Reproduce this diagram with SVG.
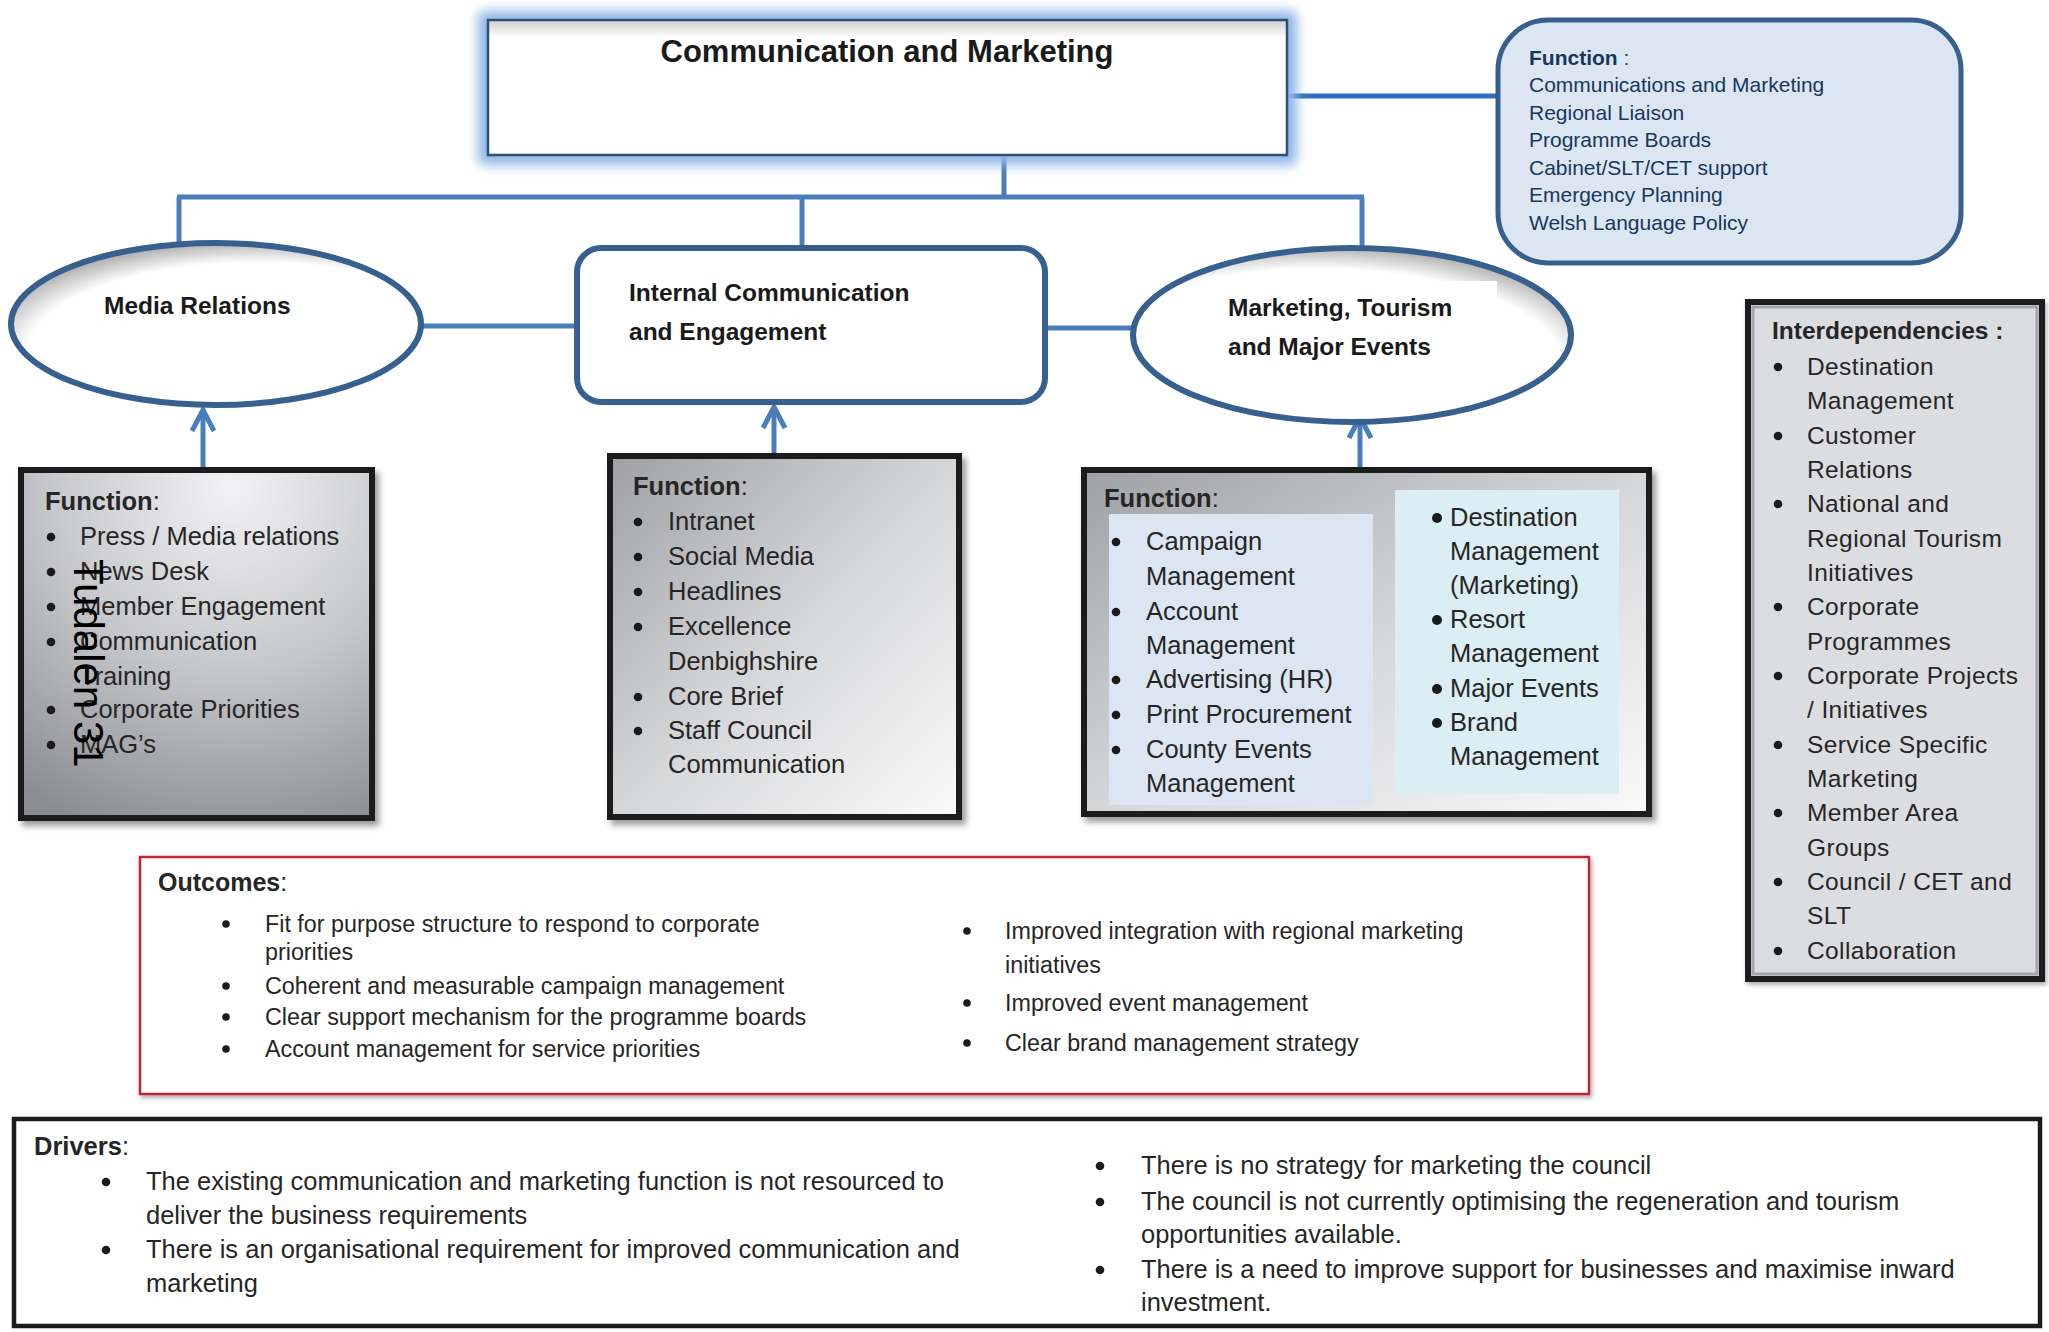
<svg xmlns="http://www.w3.org/2000/svg" width="2049" height="1332" viewBox="0 0 2049 1332">
<defs>
<style>
text{font-family:"Liberation Sans",Arial,sans-serif;fill:#262626}
.t{font-size:25.5px}
.h{font-weight:bold}
.nt{font-size:24.5px;font-weight:bold;fill:#1a1a1a}
.fn{font-size:21px;fill:#17375e}
.oc{font-size:23.3px}
.id{font-size:24.5px;letter-spacing:0.4px}
.conn{stroke:#4a7ebb;stroke-width:5;fill:none}
.node{stroke:#37608f;stroke-width:6}
.fbox{stroke:#1c1c1c;stroke-width:6}
.b{fill:#1a1a1a}
</style>
<filter id="glow" x="-10%" y="-30%" width="120%" height="160%"><feGaussianBlur stdDeviation="6"/></filter>
<filter id="sh" x="-10%" y="-10%" width="125%" height="125%"><feDropShadow dx="4" dy="5" stdDeviation="3" flood-color="#000" flood-opacity="0.4"/></filter>
<filter id="sh2" x="-5%" y="-10%" width="110%" height="125%"><feDropShadow dx="2" dy="3" stdDeviation="2" flood-color="#000" flood-opacity="0.3"/></filter>
<linearGradient id="bevel" x1="0" y1="0" x2="0" y2="1">
<stop offset="0" stop-color="#cfcfcf"/><stop offset="0.13" stop-color="#ffffff"/><stop offset="1" stop-color="#ffffff"/>
</linearGradient>
<radialGradient id="gMedia" cx="0.6" cy="0.05" r="1.05">
<stop offset="0" stop-color="#f2f2f4"/><stop offset="0.5" stop-color="#c6c7ca"/><stop offset="1" stop-color="#8c8d91"/>
</radialGradient>
<linearGradient id="gDiag" x1="0" y1="0" x2="1" y2="1">
<stop offset="0" stop-color="#9fa0a4"/><stop offset="0.5" stop-color="#d5d6d8"/><stop offset="1" stop-color="#fafafa"/>
</linearGradient>
<radialGradient id="gEllA" cx="0.6" cy="0.68" r="0.7">
<stop offset="0.8" stop-color="#ffffff"/><stop offset="1" stop-color="#ababab"/>
</radialGradient>
<radialGradient id="gEllB" cx="0.42" cy="0.68" r="0.7">
<stop offset="0.8" stop-color="#ffffff"/><stop offset="1" stop-color="#ababab"/>
</radialGradient>
<marker id="arr" viewBox="-26 -16 32 32" markerWidth="32" markerHeight="32" refX="0" refY="0" orient="auto" markerUnits="userSpaceOnUse">
<path d="M-21,-11 L0,0 L-21,11" fill="none" stroke="#4a7ebb" stroke-width="5"/>
</marker>
</defs>
<rect width="2049" height="1332" fill="#ffffff"/>

<g id="connectors">
<line x1="1287" y1="96" x2="1498" y2="96" stroke="#2f6eba" stroke-width="5"/>
<line class="conn" x1="1004" y1="155" x2="1004" y2="197"/>
<line class="conn" x1="177" y1="197" x2="1364" y2="197"/>
<line class="conn" x1="179" y1="197" x2="179" y2="244"/>
<line class="conn" x1="802" y1="197" x2="802" y2="248"/>
<line class="conn" x1="1362" y1="197" x2="1362" y2="248"/>
<line class="conn" x1="421" y1="326" x2="577" y2="326"/>
<line class="conn" x1="1045" y1="328" x2="1134" y2="328"/>
<line class="conn" x1="203" y1="467" x2="203" y2="410" marker-end="url(#arr)"/>
<line class="conn" x1="774" y1="453" x2="774" y2="407" marker-end="url(#arr)"/>
<line class="conn" x1="1360" y1="468" x2="1360" y2="417" marker-end="url(#arr)"/>
</g>

<g id="top">
<rect x="478" y="11" width="819" height="154" rx="6" fill="#8fb6e6" filter="url(#glow)"/>
<rect x="488" y="20" width="799" height="135" fill="url(#bevel)" stroke="#2f4f75" stroke-width="2.5"/>
<text x="887" y="62" text-anchor="middle" style="font-size:31px;font-weight:bold;fill:#1a1a1a">Communication and Marketing</text>
</g>

<g id="function-main">
<rect x="1498" y="20" width="463" height="243" rx="50" fill="#dce6f2" stroke="#37608f" stroke-width="5"/>
<text class="fn" x="1529" y="65"><tspan font-weight="bold">Function</tspan> :</text>
<text class="fn" x="1529" y="92">Communications and Marketing</text>
<text class="fn" x="1529" y="120">Regional Liaison</text>
<text class="fn" x="1529" y="147">Programme Boards</text>
<text class="fn" x="1529" y="175">Cabinet/SLT/CET support</text>
<text class="fn" x="1529" y="202">Emergency Planning</text>
<text class="fn" x="1529" y="230">Welsh Language Policy</text>
</g>

<g id="media-relations">
<ellipse cx="216" cy="324" rx="205" ry="81" fill="url(#gEllA)" class="node"/>
<text class="nt" x="104" y="314">Media Relations</text>
</g>

<g id="internal-communication">
<rect x="577" y="248" width="468" height="154" rx="24" fill="#ffffff" class="node"/>
<text class="nt" x="629" y="301">Internal Communication</text>
<text class="nt" x="629" y="340">and Engagement</text>
</g>

<g id="marketing-tourism">
<ellipse cx="1352" cy="335" rx="219" ry="87" fill="url(#gEllB)"/>
<rect x="1207" y="281" width="290" height="92" fill="#ffffff"/>
<ellipse cx="1352" cy="335" rx="219" ry="87" fill="none" class="node"/>
<text class="nt" x="1228" y="316">Marketing, Tourism</text>
<text class="nt" x="1228" y="355">and Major Events</text>
</g>

<g id="media-function">
<rect x="21" y="470" width="351" height="348" fill="url(#gMedia)" class="fbox" filter="url(#sh)"/>
<text class="t" x="45" y="510"><tspan class="h">Function</tspan>:</text>
<circle class="b" cx="51" cy="537" r="4.3"/><text class="t" x="80" y="545">Press / Media relations</text>
<circle class="b" cx="51" cy="572" r="4.3"/><text class="t" x="80" y="580">News Desk</text>
<circle class="b" cx="51" cy="607" r="4.3"/><text class="t" x="80" y="615">Member Engagement</text>
<circle class="b" cx="51" cy="642" r="4.3"/><text class="t" x="80" y="650">Communication</text>
<text class="t" x="80" y="685">Training</text>
<circle class="b" cx="51" cy="710" r="4.3"/><text class="t" x="80" y="718">Corporate Priorities</text>
<circle class="b" cx="51" cy="745" r="4.3"/><text class="t" x="80" y="753">MAG’s</text>
<text transform="translate(74,559) rotate(90)" style="font-size:42px;fill:#000">Tudalen 31</text>
</g>

<g id="internal-function">
<rect x="610" y="456" width="349" height="361" fill="url(#gDiag)" class="fbox" filter="url(#sh)"/>
<text class="t" x="633" y="495"><tspan class="h">Function</tspan>:</text>
<circle class="b" cx="638" cy="522" r="4.3"/><text class="t" x="668" y="530">Intranet</text>
<circle class="b" cx="638" cy="557" r="4.3"/><text class="t" x="668" y="565">Social Media</text>
<circle class="b" cx="638" cy="592" r="4.3"/><text class="t" x="668" y="600">Headlines</text>
<circle class="b" cx="638" cy="627" r="4.3"/><text class="t" x="668" y="635">Excellence</text>
<text class="t" x="668" y="670">Denbighshire</text>
<circle class="b" cx="638" cy="697" r="4.3"/><text class="t" x="668" y="705">Core Brief</text>
<circle class="b" cx="638" cy="731" r="4.3"/><text class="t" x="668" y="739">Staff Council</text>
<text class="t" x="668" y="773">Communication</text>
</g>

<g id="marketing-function">
<rect x="1084" y="470" width="565" height="344" fill="url(#gDiag)" class="fbox" filter="url(#sh)"/>
<rect x="1109" y="514" width="264" height="291" fill="#dce6f2"/>
<rect x="1395" y="490" width="224" height="304" fill="#daeef3"/>
<text class="t" x="1104" y="507"><tspan class="h">Function</tspan>:</text>
<circle class="b" cx="1116" cy="542" r="4.3"/><text class="t" x="1146" y="550">Campaign</text>
<text class="t" x="1146" y="585">Management</text>
<circle class="b" cx="1116" cy="612" r="4.3"/><text class="t" x="1146" y="620">Account</text>
<text class="t" x="1146" y="654">Management</text>
<circle class="b" cx="1116" cy="680" r="4.3"/><text class="t" x="1146" y="688">Advertising (HR)</text>
<circle class="b" cx="1116" cy="715" r="4.3"/><text class="t" x="1146" y="723">Print Procurement</text>
<circle class="b" cx="1116" cy="750" r="4.3"/><text class="t" x="1146" y="758">County Events</text>
<text class="t" x="1146" y="792">Management</text>
<circle class="b" cx="1437" cy="518" r="5"/><text class="t" x="1450" y="526">Destination</text>
<text class="t" x="1450" y="560">Management</text>
<text class="t" x="1450" y="594">(Marketing)</text>
<circle class="b" cx="1437" cy="620" r="5"/><text class="t" x="1450" y="628">Resort</text>
<text class="t" x="1450" y="662">Management</text>
<circle class="b" cx="1437" cy="689" r="5"/><text class="t" x="1450" y="697">Major Events</text>
<circle class="b" cx="1437" cy="723" r="5"/><text class="t" x="1450" y="731">Brand</text>
<text class="t" x="1450" y="765">Management</text>
</g>

<g id="interdependencies">
<rect x="1748" y="302" width="294" height="677" fill="#dcdde0" class="fbox" filter="url(#sh2)"/>
<rect x="1753" y="307" width="284" height="667" fill="none" stroke="#a5a6a9" stroke-width="3"/>
<text class="id h" x="1772" y="339" style="letter-spacing:0">Interdependencies :</text>
<circle class="b" cx="1778" cy="367" r="4.3"/><text class="id" x="1807" y="375">Destination</text>
<text class="id" x="1807" y="409">Management</text>
<circle class="b" cx="1778" cy="436" r="4.3"/><text class="id" x="1807" y="444">Customer</text>
<text class="id" x="1807" y="478">Relations</text>
<circle class="b" cx="1778" cy="504" r="4.3"/><text class="id" x="1807" y="512">National and</text>
<text class="id" x="1807" y="547">Regional Tourism</text>
<text class="id" x="1807" y="581">Initiatives</text>
<circle class="b" cx="1778" cy="607" r="4.3"/><text class="id" x="1807" y="615">Corporate</text>
<text class="id" x="1807" y="650">Programmes</text>
<circle class="b" cx="1778" cy="676" r="4.3"/><text class="id" x="1807" y="684">Corporate Projects</text>
<text class="id" x="1807" y="718">/ Initiatives</text>
<circle class="b" cx="1778" cy="745" r="4.3"/><text class="id" x="1807" y="753">Service Specific</text>
<text class="id" x="1807" y="787">Marketing</text>
<circle class="b" cx="1778" cy="813" r="4.3"/><text class="id" x="1807" y="821">Member Area</text>
<text class="id" x="1807" y="856">Groups</text>
<circle class="b" cx="1778" cy="882" r="4.3"/><text class="id" x="1807" y="890">Council / CET and</text>
<text class="id" x="1807" y="924">SLT</text>
<circle class="b" cx="1778" cy="951" r="4.3"/><text class="id" x="1807" y="959">Collaboration</text>
</g>

<g id="outcomes">
<rect x="140" y="857" width="1449" height="237" fill="#ffffff" stroke="#c0282d" stroke-width="2.5" filter="url(#sh2)"/>
<text class="oc" x="158" y="891" style="font-size:25px"><tspan class="h">Outcomes</tspan>:</text>
<circle class="b" cx="226" cy="924" r="3.8"/><text class="oc" x="265" y="932">Fit for purpose structure to respond to corporate</text>
<text class="oc" x="265" y="960">priorities</text>
<circle class="b" cx="226" cy="986" r="3.8"/><text class="oc" x="265" y="994">Coherent and measurable campaign management</text>
<circle class="b" cx="226" cy="1017" r="3.8"/><text class="oc" x="265" y="1025">Clear support mechanism for the programme boards</text>
<circle class="b" cx="226" cy="1049" r="3.8"/><text class="oc" x="265" y="1057">Account management for service priorities</text>
<circle class="b" cx="967" cy="931" r="3.8"/><text class="oc" x="1005" y="939">Improved integration with regional marketing</text>
<text class="oc" x="1005" y="973">initiatives</text>
<circle class="b" cx="967" cy="1003" r="3.8"/><text class="oc" x="1005" y="1011">Improved event management</text>
<circle class="b" cx="967" cy="1043" r="3.8"/><text class="oc" x="1005" y="1051">Clear brand management strategy</text>
</g>

<g id="drivers">
<rect x="14" y="1119" width="2026" height="207" fill="#ffffff" stroke="#1c1c1c" stroke-width="4.5"/>
<text class="t" x="34" y="1155"><tspan class="h">Drivers</tspan>:</text>
<circle class="b" cx="106" cy="1182" r="4.3"/><text class="t" x="146" y="1190">The existing communication and marketing function is not resourced to</text>
<text class="t" x="146" y="1224">deliver the business requirements</text>
<circle class="b" cx="106" cy="1250" r="4.3"/><text class="t" x="146" y="1258">There is an organisational requirement for improved communication and</text>
<text class="t" x="146" y="1292">marketing</text>
<circle class="b" cx="1100" cy="1166" r="4.3"/><text class="t" x="1141" y="1174">There is no strategy for marketing the council</text>
<circle class="b" cx="1100" cy="1202" r="4.3"/><text class="t" x="1141" y="1210">The council is not currently optimising the regeneration and tourism</text>
<text class="t" x="1141" y="1243">opportunities available.</text>
<circle class="b" cx="1100" cy="1270" r="4.3"/><text class="t" x="1141" y="1278">There is a need to improve support for businesses and maximise inward</text>
<text class="t" x="1141" y="1311">investment.</text>
</g>
</svg>
